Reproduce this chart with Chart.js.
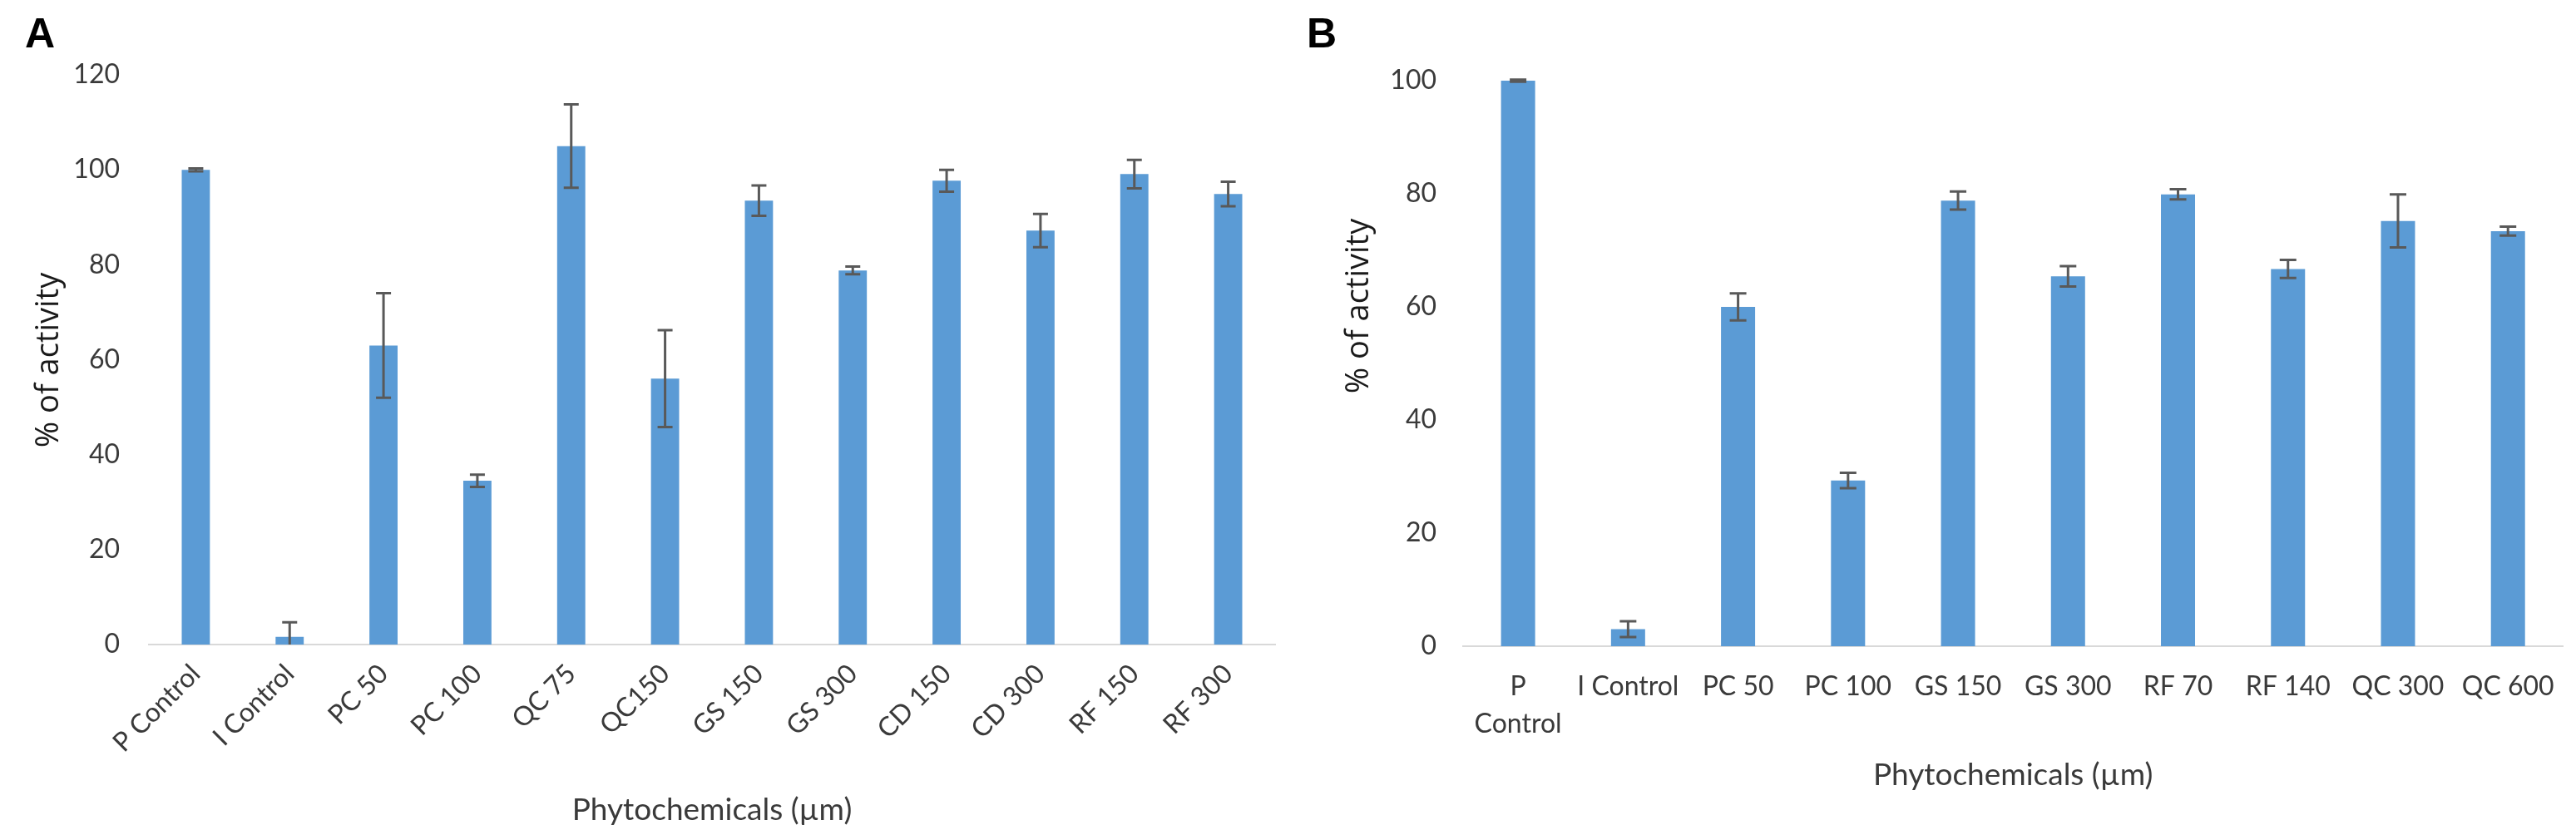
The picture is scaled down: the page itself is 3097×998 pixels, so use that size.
<!DOCTYPE html>
<html>
<head>
<meta charset="utf-8">
<title>Phytochemicals - % of activity</title>
<script src="https://cdn.jsdelivr.net/npm/chart.js@4.4.1/dist/chart.umd.min.js"></script>
<style>
    html, body { margin: 0; padding: 0; background: #ffffff; }
    #wrap { position: relative; width: 3097px; height: 998px; overflow: hidden; }
    .panel { position: absolute; top: 0; }
    #boxA { left: 0; }
    #boxB { left: 1545px; }
    .letter {
        position: absolute;
        top: 15px;
        font: bold 50px "Liberation Sans", Arial, sans-serif;
        line-height: 1;
        color: #000;
    }
</style>
</head>
<body>
<div id="wrap">
    <div class="panel" id="boxA"><canvas id="chartA" width="1545" height="998"></canvas></div>
    <div class="panel" id="boxB"><canvas id="chartB" width="1552" height="998"></canvas></div>
    <div class="letter" style="left:30px">A</div>
    <div class="letter" style="left:1571px">B</div>
</div>

<script>
// Panel A data
const labelsA = ['P Control', 'I Control', 'PC 50', 'PC 100', 'QC 75', 'QC150',
                 'GS 150', 'GS 300', 'CD 150', 'CD 300', 'RF 150', 'RF 300'];
const valuesA = [100, 1.6, 63, 34.5, 105, 56, 93.5, 78.8, 97.7, 87.2, 99.1, 94.9];
const errorsA = [0.3, 3.1, 11, 1.3, 8.8, 10.2, 3.2, 0.8, 2.3, 3.5, 3.0, 2.6];
const yTicksA = [0, 20, 40, 60, 80, 100, 120];

// Panel B data
const labelsB = [['P', 'Control'], 'I Control', 'PC 50', 'PC 100', 'GS 150', 'GS 300',
                 'RF 70', 'RF 140', 'QC 300', 'QC 600'];
const valuesB = [100, 3.0, 60, 29.3, 78.8, 65.4, 79.9, 66.7, 75.2, 73.4];
const errorsB = [0.2, 1.4, 2.4, 1.35, 1.6, 1.8, 0.9, 1.6, 4.7, 0.8];
const yTicksB = [0, 20, 40, 60, 80, 100];

const BAR_COLOR = '#5b9bd5';
const TEXT_COLOR = '#3a3a3a';

// Draws +/- error bars on top of each bar, using the y scale
const errorBars = {
    id: 'errorBars',
    afterDatasetsDraw(chart, args, opts) {
        const meta = chart.getDatasetMeta(0);
        const y = chart.scales.y;
        const vals = chart.data.datasets[0].data;
        const ctx = chart.ctx;
        const half = opts.cap / 2;
        ctx.save();
        ctx.strokeStyle = opts.color;
        ctx.lineWidth = opts.width;
        meta.data.forEach(function(bar, i) {
            const e = opts.errors[i];
            const hiPx = y.getPixelForValue(vals[i] + e);
            const lowVal = vals[i] - e;
            const loPx = y.getPixelForValue(Math.max(lowVal, y.min));
            ctx.beginPath();
            ctx.moveTo(bar.x, hiPx);
            ctx.lineTo(bar.x, loPx);
            ctx.moveTo(bar.x - half, hiPx);
            ctx.lineTo(bar.x + half, hiPx);
            if (lowVal >= y.min) {
                ctx.moveTo(bar.x - half, loPx);
                ctx.lineTo(bar.x + half, loPx);
            }
            ctx.stroke();
        });
        ctx.restore();
    }
};

// Rotated y axis title (placed freely, the B one sits above centre)
const sideTitle = {
    id: 'sideTitle',
    afterDraw(chart, args, opts) {
        if (!opts.text) return;
        const ctx = chart.ctx;
        ctx.save();
        ctx.translate(opts.x, opts.y);
        ctx.rotate(-Math.PI / 2);
        ctx.font = opts.font;
        ctx.fillStyle = opts.color;
        ctx.textAlign = 'center';
        ctx.textBaseline = 'middle';
        ctx.fillText(opts.text, 0, 0);
        ctx.restore();
    }
};

function makeChart(id, cfg) {
    return new Chart(document.getElementById(id), {
        type: 'bar',
        data: {
            labels: cfg.labels,
            datasets: [{
                data: cfg.values,
                backgroundColor: BAR_COLOR,
                borderWidth: 0,
                barPercentage: cfg.barPct,
                categoryPercentage: 1.0
            }]
        },
        options: {
            responsive: false,
            animation: false,
            events: [],
            layout: { padding: cfg.padding },
            plugins: {
                legend: { display: false },
                tooltip: { enabled: false },
                errorBars: { errors: cfg.errors, color: '#595959', width: 3, cap: cfg.cap },
                sideTitle: {
                    text: '% of activity',
                    x: cfg.titleX,
                    y: cfg.titleY,
                    font: '38px "Open Sans"',
                    color: '#1a1a1a'
                }
            },
            scales: {
                x: {
                    grid: { display: false, drawTicks: false },
                    border: { display: true, color: '#d9d9d9', width: 2 },
                    ticks: {
                        color: TEXT_COLOR,
                        font: { family: 'Lato', size: 32, lineHeight: 1.4 },
                        padding: cfg.xTickPad,
                        maxRotation: cfg.rotation,
                        minRotation: cfg.rotation,
                        autoSkip: false
                    },
                    title: {
                        display: true,
                        text: 'Phytochemicals (µm)',
                        color: TEXT_COLOR,
                        font: { family: 'Lato', size: 37, lineHeight: 1.2 },
                        padding: { top: 0, bottom: cfg.xTitlePad }
                    },
                    afterFit: function(scale) { scale.height = cfg.xHeight; }
                },
                y: {
                    min: cfg.yTicks[0],
                    max: cfg.yTicks[cfg.yTicks.length - 1],
                    grid: { display: false, drawTicks: false },
                    border: { display: false },
                    ticks: {
                        color: TEXT_COLOR,
                        font: { family: 'Lato', size: 32 },
                        padding: cfg.yTickPad
                    },
                    afterBuildTicks: function(scale) {
                        scale.ticks = cfg.yTicks.map(function(v) { return { value: v }; });
                    },
                    afterFit: function(scale) { scale.width = cfg.yWidth; }
                }
            }
        },
        plugins: [errorBars, sideTitle]
    });
}

makeChart('chartA', {
    labels: labelsA, values: valuesA, errors: errorsA, yTicks: yTicksA,
    barPct: 0.3, cap: 18, rotation: 45,
    padding: { top: 90, right: 12, bottom: 0, left: 0 },
    yWidth: 179, xHeight: 223, yTickPad: 35, xTickPad: 14, xTitlePad: 2,
    titleX: 59, titleY: 433
});

makeChart('chartB', {
    labels: labelsB, values: valuesB, errors: errorsB, yTicks: yTicksB,
    barPct: 0.31, cap: 20, rotation: 0,
    padding: { top: 97, right: 7, bottom: 0, left: 0 },
    yWidth: 214, xHeight: 221, yTickPad: 32, xTickPad: 26, xTitlePad: 44,
    titleX: 89, titleY: 368
});
</script>
</body>
</html>
